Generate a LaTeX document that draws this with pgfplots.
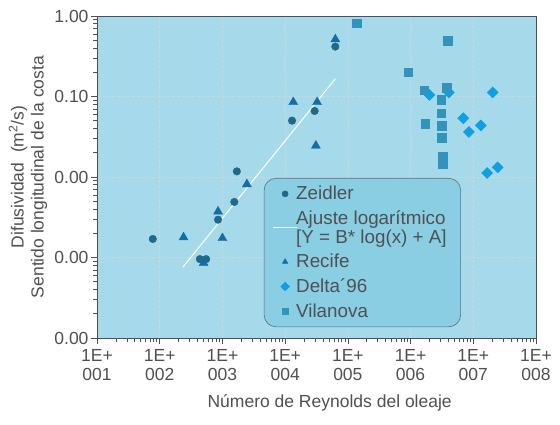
\documentclass[border=0pt]{standalone}
\usepackage{fontspec}
\setmainfont{Liberation Sans}
\usepackage{pgfplots}
\pgfplotsset{compat=1.18}
\definecolor{fondo}{RGB}{166,218,234}
\definecolor{leyenda}{RGB}{138,206,228}
\definecolor{borde}{RGB}{90,112,122}
\definecolor{rejilla}{RGB}{205,214,218}
\definecolor{zeidler}{RGB}{31,106,138}
\definecolor{recife}{RGB}{18,110,166}
\definecolor{delta}{RGB}{16,158,228}
\definecolor{vilanova}{RGB}{50,148,188}
\definecolor{texto}{RGB}{78,80,82}
\newcommand{\fuente}{\fontsize{17.5}{18.5}\selectfont}

\begin{document}
\begin{tikzpicture}
\begin{axis}[
    xmode=log, ymode=log,
    scale only axis,
    width=439pt, height=322pt,
    xmin=10, xmax=1e8,
    ymin=1e-4, ymax=1,
    axis background/.style={fill=fondo},
    axis line style={draw=texto, line width=0.9pt},
    tick align=outside,
    xtick pos=bottom, ytick pos=left,
    major tick length=6pt, minor tick length=4pt,
    every tick/.style={texto, line width=0.7pt},
    xtick={1e1,1e2,1e3,1e4,1e5,1e6,1e7,1e8},
    xticklabels={{1E+\\001},{1E+\\002},{1E+\\003},{1E+\\004},{1E+\\005},{1E+\\006},{1E+\\007},{1E+\\008}},
    xticklabel style={align=center, font=\fuente, text=texto, yshift=-2pt},
    ytick={1e-4,1e-3,1e-2,1e-1,1},
    yticklabels={0.00,0.00,0.00,0.10,1.00},
    yticklabel style={font=\fuente, text=texto, xshift=1pt},
    grid=major,
    major grid style={densely dashed, rejilla, line width=0.5pt},
    xlabel={Número de Reynolds del oleaje},
    xlabel style={at={(axis description cs:0.53,-0.2)}, anchor=center, font=\fuente, text=texto},
    ylabel={Difusividad\ \ (m\textsuperscript{2}/s)\\Sentido longitudinal de la costa},
    ylabel style={at={(axis description cs:-0.105,0.5)}, anchor=south, align=center,
        font=\fontsize{17.5}{20}\selectfont, text=texto},
    legend style={at={(axis description cs:0.38,0.497)}, anchor=north west,
        draw=borde, line width=0.6pt, fill=leyenda, rounded corners=12pt,
        font=\fontsize{18.8}{18.5}\selectfont, text=texto,
        cells={anchor=west, align=left}, row sep=5.5pt,
        inner xsep=12pt, inner ysep=6pt},
    legend image post style={mark size=3pt},
]
% Zeidler
\addplot[only marks, mark=*, mark size=3.8pt, color=zeidler] coordinates {
  (77.6,0.00170) (1698,0.01175) (1549,0.00490) (851,0.00295)
  (437,0.000955) (550,0.000955) (12882,0.0501) (29512,0.0661) (63096,0.417)
};
\addlegendentry{Zeidler}
% Ajuste logaritmico
\addplot[white, line width=1pt] coordinates {(234.4,0.000759) (63096,0.166)};
\addlegendentry{Ajuste logarítmico\\{[}Y = B* log(x) + A{]}}
% Recife
\addplot[only marks, mark=triangle*, mark size=5.2pt, color=recife] coordinates {
  (240,0.00178) (2455,0.00813) (851,0.00372) (1000,0.00174) (501,0.000851)
  (13490,0.0851) (32359,0.0851) (30903,0.0245) (63096,0.513)
};
\addlegendentry{Recife}
% Delta'96
\addplot[only marks, mark=square*, mark size=3.9pt, mark options={rotate=45}, color=delta] coordinates {
  (1.995e6,0.1047) (4.07e6,0.1122) (2.04e7,0.1122) (6.92e6,0.0537)
  (1.318e7,0.0437) (8.51e6,0.0363) (1.66e7,0.01122) (2.45e7,0.01318)
};
\addlegendentry{Delta´96}
% Vilanova
\addplot[only marks, mark=square*, mark size=4.3pt, color=vilanova] coordinates {
  (138038,0.813) (3.89e6,0.490) (912011,0.1995) (1.66e6,0.1202) (3.80e6,0.1288)
  (3.09e6,0.0912) (3.09e6,0.0617) (1.70e6,0.0457) (3.16e6,0.0437)
  (3.16e6,0.0309) (3.24e6,0.0178) (3.24e6,0.0145)
};
\addlegendentry{Vilanova}
\end{axis}
\pgfresetboundingbox
\path[use as bounding box] ([shift={(-97pt,-87pt)}]current axis.south west)
  rectangle ([shift={(24pt,16pt)}]current axis.north east);
\end{tikzpicture}
\end{document}
